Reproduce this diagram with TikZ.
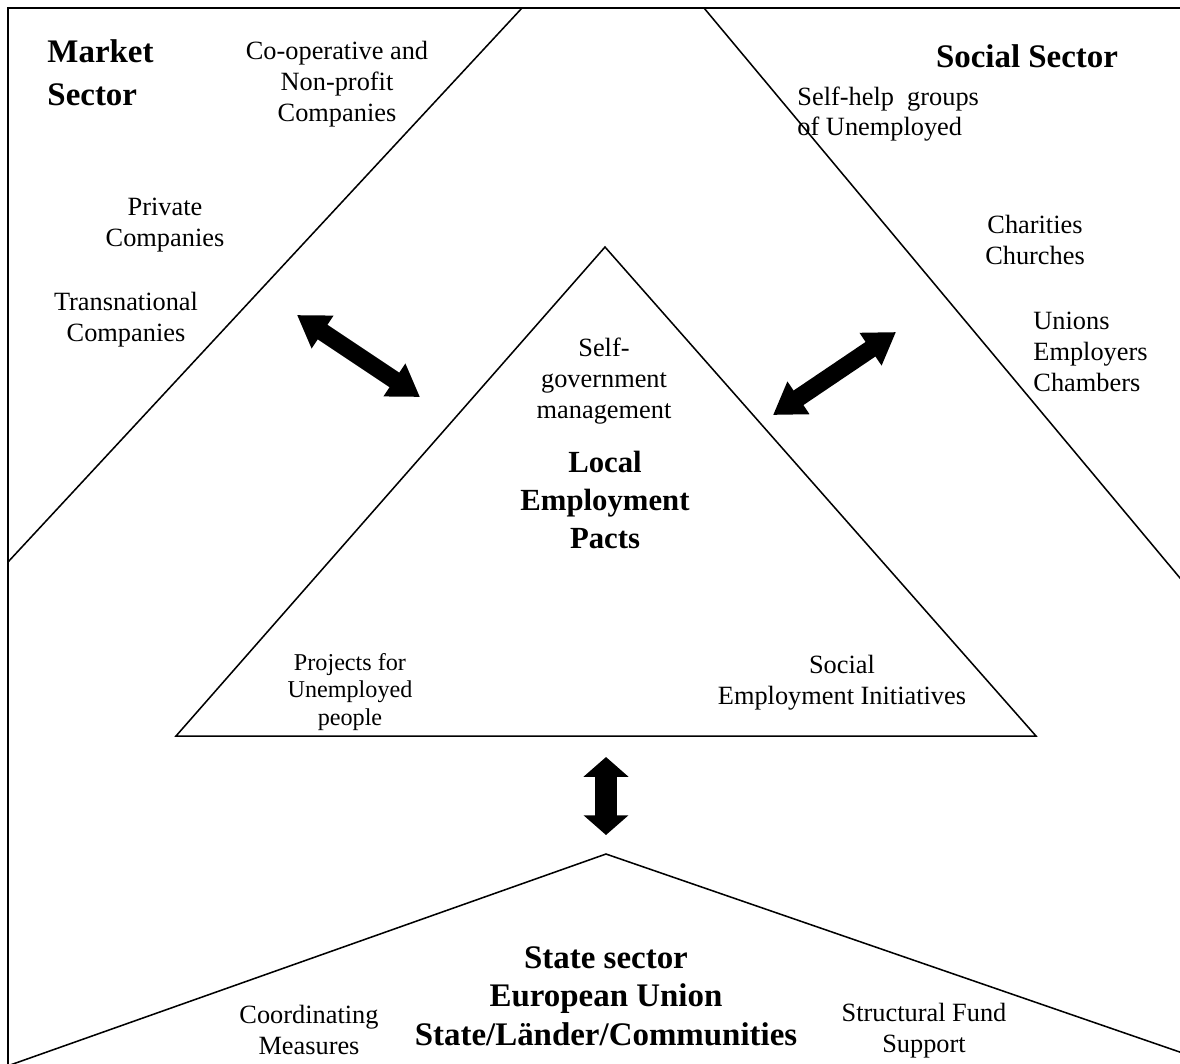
\documentclass[tikz,border=0pt]{standalone}
\usepackage{fontspec}
\setmainfont{Liberation Serif}
\usetikzlibrary{arrows.meta}

\tikzset{
    txt/.style={align=center, inner sep=0pt, font=\fontsize{12}{14}\selectfont},
    smalltxt/.style={align=center, inner sep=0pt, font=\fontsize{11}{12.6}\selectfont},
    heading/.style={align=center, inner sep=0pt, font=\fontsize{15}{19.5}\selectfont\bfseries},
    edge/.style={line width=0.7pt},
    diagarrow/.style={line width=8pt, {Triangle[length=14pt,width=17pt]}-{Triangle[length=14pt,width=17pt]}},
    vertarrow/.style={line width=10pt, {Triangle[length=9pt,width=20pt]}-{Triangle[length=9pt,width=20pt]}}
}

\begin{document}
\begin{tikzpicture}[x=0.016cm, y=-0.016cm]
    \useasboundingbox (0,0) rectangle (1180,1063);
    \clip (0,0) rectangle (1180,1063);
    % Frame
    \draw[line width=1pt] (1200,8) -- (8,8) -- (8,1080);
    % Sector borders
    \draw[edge] (522,8) -- (8,562);
    \draw[edge] (704,8) -- (1190,590);
    \draw[edge] (-4,1070) -- (606,854) -- (1200,1059);
    % Local triangle
    \draw[edge] (605,247) -- (176,736) -- (1036,736) -- cycle;
    % Market sector
    \node[heading, align=left, anchor=west] (market) at (47,73) {Market\\Sector};
    \node[txt] (coop) at (337,84) {Co-operative and\\Non-profit\\Companies};
    \node[txt] (private) at (165,225) {Private\\Companies};
    \node[txt] (transnat) at (126,320) {Transnational\\Companies};
    % Social sector
    \node[heading] (social) at (1027,56) {Social Sector};
    \node[txt, align=left, anchor=west] (selfhelp) at (797,114) {Self-help\ \ groups\\of Unemployed};
    \node[txt] (charities) at (1035,240) {Charities\\Churches};
    \node[txt, align=left, anchor=west] (unions) at (1033,352) {Unions\\Employers\\Chambers};
    % Local employment pacts
    \node[txt] (selfgov) at (604,381) {Self-\\government\\management};
    \node[heading, font=\fontsize{14}{17.5}\selectfont\bfseries] (pacts) at (605,500) {Local\\Employment\\Pacts};
    \node[smalltxt] (projects) at (350,692) {Projects for\\Unemployed\\people};
    \node[txt] (initiatives) at (842,683) {Social\\Employment Initiatives};
    % State sector
    \node[heading, font=\fontsize{15}{17.5}\selectfont\bfseries] (state) at (606,996) {State sector\\European Union\\State/Länder/Communities};
    \node[txt] (coord) at (309,1030) {Coordinating\\Measures};
    \node[txt] (fund) at (924,1031) {Structural Fund\\Support};
    % Arrows
    \coordinate (marketend) at (297,315);
    \coordinate (pactsleft) at (420,397);
    \coordinate (socialend) at (896,332);
    \coordinate (pactsright) at (773,415);
    \coordinate (pactsdown) at (606,757);
    \coordinate (stateup) at (606,835);
    \draw[diagarrow] (marketend) -- (pactsleft);
    \draw[diagarrow] (socialend) -- (pactsright);
    \draw[vertarrow] (pactsdown) -- (stateup);
\end{tikzpicture}
\end{document}
